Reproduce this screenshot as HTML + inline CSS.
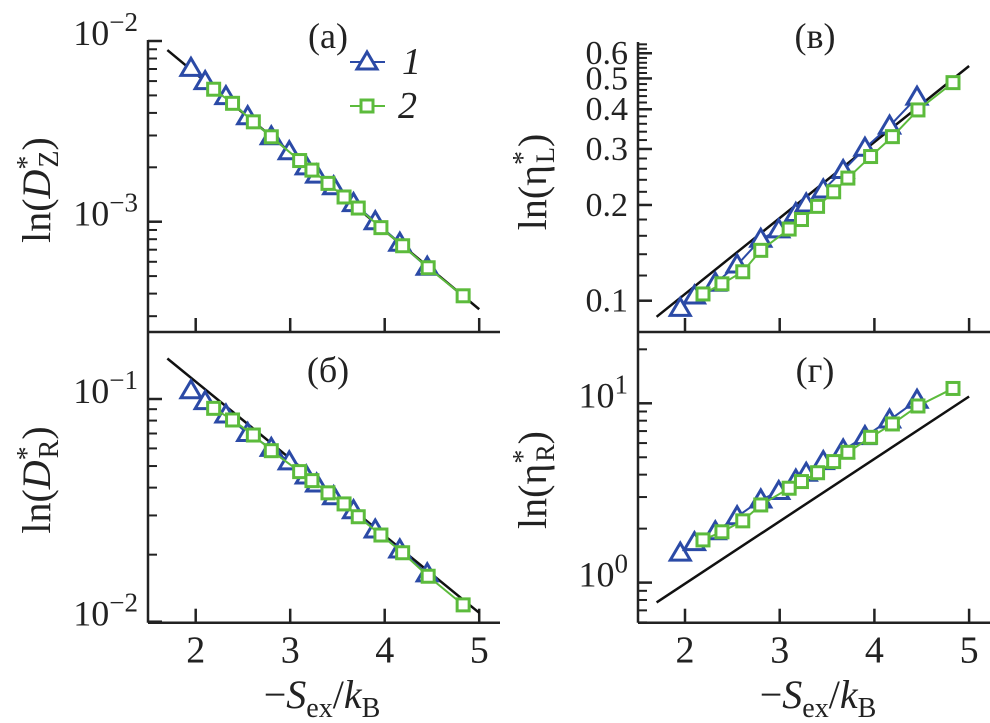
<!DOCTYPE html>
<html><head><meta charset="utf-8">
<style>
html,body{margin:0;padding:0;background:#fff;}
svg{display:block;}
text{font-family:"Liberation Serif","Times New Roman",serif;}
</style></head>
<body>
<svg id="fig" width="990" height="723" viewBox="0 0 990 723" xmlns="http://www.w3.org/2000/svg" font-family="Liberation Serif, serif"></svg>
<script>
// ---- data ----
const xTri = [1.95,2.10,2.32,2.55,2.80,2.99,3.17,3.28,3.46,3.67,3.90,4.16,4.45];
const xSq  = [2.19,2.39,2.61,2.80,3.10,3.23,3.40,3.57,3.72,3.96,4.19,4.46,4.83];
const dzTri = [7.06e-3,5.96e-3,4.92e-3,3.81e-3,2.95e-3,2.44e-3,2.01e-3,1.81e-3,1.56e-3,1.26e-3,1.0e-3,7.6e-4,5.6e-4];
const dzSq  = [5.41e-3,4.52e-3,3.57e-3,2.95e-3,2.18e-3,1.93e-3,1.63e-3,1.37e-3,1.19e-3,9.27e-4,7.36e-4,5.56e-4,3.89e-4];
const drTri = [0.1089,0.0973,0.0847,0.0700,0.0600,0.0522,0.0451,0.0415,0.0364,0.0315,0.0258,0.0210,0.0164];
const drSq  = [0.0908,0.0805,0.0689,0.0586,0.0472,0.0430,0.0379,0.0338,0.0296,0.0245,0.0204,0.0160,0.0119];
const elTri = [0.0946,0.1035,0.1135,0.1295,0.156,0.167,0.188,0.2015,0.223,0.2566,0.3016,0.354,0.4365];
const elSq  = [0.105,0.113,0.1233,0.144,0.168,0.180,0.198,0.220,0.243,0.284,0.328,0.398,0.485];
const erTri = [1.46,1.67,1.92,2.33,2.89,3.22,3.73,4.07,4.73,5.49,6.52,8.07,10.4];
const erSq  = [1.73,1.92,2.21,2.71,3.36,3.66,4.10,4.73,5.33,6.46,7.67,9.66,12.1];
// fit lines: log10(y) = a + b*x, drawn from x=1.7 to 5
const fitA = [-1.311,-0.230,-1.457,-0.702];
const fitB = [-0.4347,-0.346,0.239,0.348];
const xTicks = [2,3,4,5];

const NS="http://www.w3.org/2000/svg";
const svg=document.getElementById('fig');
const FF="Liberation Serif, Times New Roman, serif";
function mk(tag,attrs,parent){const e=document.createElementNS(NS,tag);for(const k in attrs)e.setAttribute(k,attrs[k]);if(tag==='text')e.setAttribute('font-family',FF);(parent||svg).appendChild(e);return e;}
const BLUE="#2b4aa6", GREEN="#5cbb3c";

function panel(cfg){
  const g=mk('g',{});
  
  
  const sx=x=>cfg.x0+(x-2)*cfg.xs;
  const sy=v=>cfg.yRef-(Math.log10(v)-cfg.logRef)*cfg.dec;
  const ya=mk('line',{x1:cfg.left,y1:cfg.top,x2:cfg.left,y2:cfg.bottom,stroke:'#222','stroke-width':2.5},g);
  
  
  const xa=mk('line',{x1:cfg.left,y1:cfg.bottom,x2:cfg.right,y2:cfg.bottom,stroke:'#222','stroke-width':2.5},g);
  
  
  xTicks.forEach(t=>{
    const l=mk('line',{x1:sx(t),y1:cfg.bottom,x2:sx(t),y2:cfg.bottom-14,stroke:'#222','stroke-width':2.5},g);
    
    
    if(cfg.xlabels){
      const tx=mk('text',{x:sx(t),y:cfg.bottom+40,'font-size':38,'text-anchor':'middle',fill:'#222'},g);
      tx.textContent=t;
      
      
    }
  });
  cfg.minor.forEach(v=>{
    const y=sy(v); if(y<cfg.top-1||y>cfg.bottom)return;
    const l=mk('line',{x1:cfg.left,y1:y,x2:cfg.left+9,y2:y,stroke:'#222','stroke-width':2},g);
    
    
  });
  cfg.major.forEach((v,i)=>{
    const y=sy(v);
    const l=mk('line',{x1:cfg.left,y1:y,x2:cfg.left+14,y2:y,stroke:'#222','stroke-width':2.5},g);
    
    
    const tx=mk('text',{x:cfg.left-10,y:y+(cfg.exp?4:11),'font-size':cfg.exp?36:34,'text-anchor':'end',fill:'#222'},g);
    
    
    if(cfg.exp){
      tx.appendChild(document.createTextNode('10'));
      const s=mk('tspan',{dy:-14,'font-size':27},tx); s.textContent=cfg.exp[i];
    } else tx.textContent=cfg.majorLabels[i];
  });
  const fl=mk('line',{x1:sx(1.7),y1:sy(Math.pow(10,cfg.a+cfg.b*1.7)),x2:sx(5),y2:sy(Math.pow(10,cfg.a+cfg.b*5)),stroke:'#111','stroke-width':2.5},g);
  
  
  function series(xs,ys,col,kind){
    const pts=xs.map((x,i)=>sx(x)+','+sy(ys[i])).join(' ');
    const pl=mk('polyline',{points:pts,fill:'none',stroke:col,'stroke-width':2},g);
    
    
    xs.forEach((x,i)=>{
      const cx=sx(x),cy=sy(ys[i]);let m;
      if(kind==='tri') m=mk('polygon',{points:`${cx},${cy-10} ${cx-10},${cy+7} ${cx+10},${cy+7}`,fill:'#fff',stroke:col,'stroke-width':3},g);
      else m=mk('rect',{x:cx-6,y:cy-6,width:12,height:12,fill:'#fff',stroke:col,'stroke-width':3},g);
      
      
    });
  }
  series(xTri,cfg.tri,BLUE,'tri');
  series(xSq,cfg.sq,GREEN,'sq');
  const pt=mk('text',{x:cfg.plx,y:cfg.ply,'font-size':36,'text-anchor':'middle',fill:'#222'},g);
  pt.textContent=cfg.plabel;
  
  
  return g;
}
function rng(a,b,s){const r=[];for(let v=a;v<=b+1e-9;v+=s)r.push(+v.toFixed(4));return r;}

panel({name:'panel-a',left:148,right:500,top:40,bottom:332,x0:195.7,xs:94.5,yRef:221.7,logRef:-3,dec:180.7,
  major:[1e-2,1e-3],exp:['−2','−3'],minor:[...rng(2,9,1).map(v=>v*1e-3),...rng(2,9,1).map(v=>v*1e-4)],
  tri:dzTri,sq:dzSq,a:fitA[0],b:fitB[0],plabel:'(a)',plx:328,ply:48});
panel({name:'panel-b',left:148,right:500,top:332,bottom:622.7,x0:195.7,xs:94.5,yRef:399,logRef:-1,dec:222.7,xlabels:true,
  major:[1e-1,1e-2],exp:['−1','−2'],minor:rng(2,9,1).map(v=>v*1e-2),
  tri:drTri,sq:drSq,a:fitA[1],b:fitB[1],plabel:'(б)',plx:328,ply:382});
panel({name:'panel-v',left:638,right:990,top:42,bottom:332,x0:685,xs:94.7,yRef:300.7,logRef:-1,dec:318,
  major:[0.1,0.2,0.3,0.4,0.5,0.6],majorLabels:['0.1','0.2','0.3','0.4','0.5','0.6'],minor:rng(0.12,0.64,0.02),
  tri:elTri,sq:elSq,a:fitA[2],b:fitB[2],plabel:'(в)',plx:815,ply:48});
panel({name:'panel-g',left:638,right:990,top:332,bottom:622.7,x0:685,xs:94.7,yRef:403.3,logRef:1,dec:179.3,xlabels:true,
  major:[10,1],exp:['1','0'],minor:[0.6,0.7,0.8,0.9,...rng(2,9,1),20],
  tri:erTri,sq:erSq,a:fitA[3],b:fitB[3],plabel:'(г)',plx:815,ply:382});
</script>
<svg width="990" height="723" viewBox="0 0 990 723" style="position:absolute;left:0;top:0" font-family="Liberation Serif, serif" xmlns="http://www.w3.org/2000/svg">
  <g>
    <line x1="350" y1="62" x2="385" y2="62" stroke="#2b4aa6" stroke-width="2"/>
    <polygon points="367,52 357,69 377,69" fill="#fff" stroke="#2b4aa6" stroke-width="3"/>
    <text x="402" y="74" font-size="38" font-style="italic" fill="#222">1</text>
    <line x1="350" y1="106" x2="385" y2="106" stroke="#5cbb3c" stroke-width="2"/>
    <rect x="361" y="100" width="12" height="12" fill="#fff" stroke="#5cbb3c" stroke-width="3"/>
    <text x="398" y="118" font-size="38" font-style="italic" fill="#222">2</text>
  </g>
  <text transform="translate(50,190) rotate(-90)" font-size="40" text-anchor="middle" fill="#222">ln(<tspan font-style="italic">D</tspan><tspan dy="-14" font-size="28">*</tspan><tspan dy="22" dx="-12" font-size="28">Z</tspan><tspan dy="-8">)</tspan></text>
  <text transform="translate(50,480) rotate(-90)" font-size="40" text-anchor="middle" fill="#222">ln(<tspan font-style="italic">D</tspan><tspan dy="-14" font-size="28">*</tspan><tspan dy="22" dx="-12" font-size="28">R</tspan><tspan dy="-8">)</tspan></text>
  <text transform="translate(546,182) rotate(-90)" font-size="40" text-anchor="middle" fill="#222">ln(η<tspan dy="-14" font-size="28">*</tspan><tspan dy="22" dx="-12" font-size="26">L</tspan><tspan dy="-8">)</tspan></text>
  <text transform="translate(546,480) rotate(-90)" font-size="40" text-anchor="middle" fill="#222">ln(η<tspan dy="-14" font-size="28">*</tspan><tspan dy="22" dx="-12" font-size="26">R</tspan><tspan dy="-8">)</tspan></text>
  <text x="322" y="708" font-size="40" text-anchor="middle" fill="#222">−<tspan font-style="italic">S</tspan><tspan dy="9" font-size="28">ex</tspan><tspan dy="-9">/</tspan><tspan font-style="italic">k</tspan><tspan dy="9" font-size="28">B</tspan></text>
  <text x="818" y="708" font-size="40" text-anchor="middle" fill="#222">−<tspan font-style="italic">S</tspan><tspan dy="9" font-size="28">ex</tspan><tspan dy="-9">/</tspan><tspan font-style="italic">k</tspan><tspan dy="9" font-size="28">B</tspan></text>
</svg>
</body></html>
